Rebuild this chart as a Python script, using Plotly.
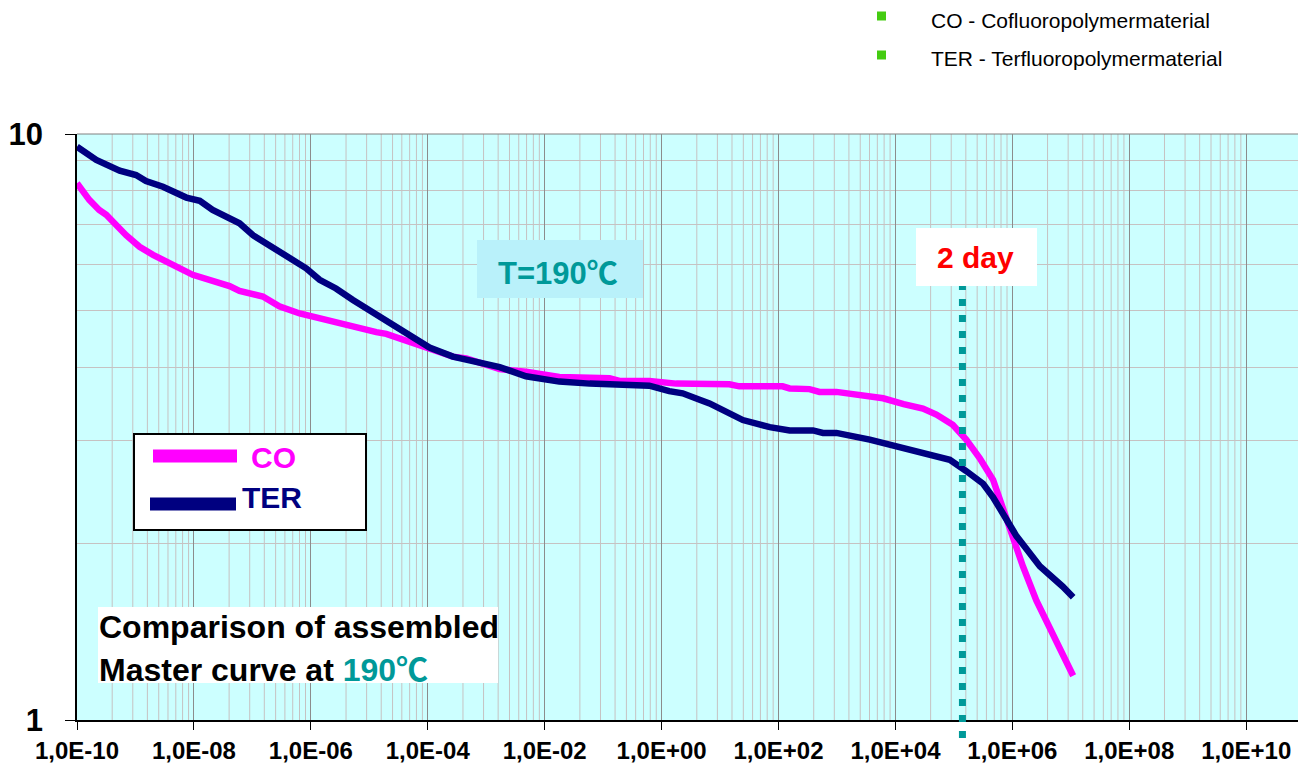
import plotly.graph_objects as go

# Master curves at 190 °C: log10(time) and modulus values
co_log_t = [-10.00, -9.79, -9.62, -9.50, -9.16, -9.05, -8.93, -8.70, -8.53, -8.25,
            -8.02, -7.39, -7.22, -6.82, -6.65, -6.54, -6.19, -5.97, -5.40, -5.17,
            -4.88, -4.71, -4.49, -3.97, -3.57, -3.34, -2.77, -2.32, -1.75, -0.89,
            -0.72, -0.21, 0.25, 1.16, 1.33, 2.07, 2.19, 2.53, 2.70, 2.99,
            3.16, 3.44, 3.79, 4.14, 4.47, 4.70, 4.98, 5.21, 5.44, 5.67,
            5.84, 6.01, 6.18, 6.41, 6.58, 6.75, 6.92, 7.04]
co_mod = [8.24, 7.72, 7.42, 7.28, 6.72, 6.59, 6.42, 6.22, 6.10, 5.90,
          5.75, 5.50, 5.40, 5.28, 5.17, 5.08, 4.94, 4.88, 4.70, 4.66,
          4.59, 4.56, 4.48, 4.31, 4.17, 4.14, 3.97, 3.93, 3.85, 3.83,
          3.79, 3.79, 3.75, 3.74, 3.71, 3.71, 3.68, 3.67, 3.63, 3.63,
          3.61, 3.60, 3.54, 3.46, 3.40, 3.32, 3.19, 3.01, 2.80, 2.57,
          2.28, 2.03, 1.83, 1.60, 1.48, 1.35, 1.25, 1.19]

ter_log_t = [-10.00, -9.67, -9.27, -8.99, -8.82, -8.53, -8.13, -7.90, -7.68, -7.22,
             -6.99, -6.76, -6.42, -6.08, -5.85, -5.57, -5.28, -4.88, -4.60, -4.43,
             -4.20, -3.97, -3.57, -3.34, -2.77, -2.32, -1.75, -1.23, -0.61, -0.21,
             0.13, 0.36, 0.65, 0.82, 1.39, 1.85, 2.19, 2.59, 2.76, 2.99,
             3.56, 3.79, 4.07, 4.47, 4.64, 4.93, 5.21, 5.50, 5.67, 5.95,
             6.07, 6.47, 6.64, 6.86, 7.04]
ter_mod = [9.51, 9.03, 8.66, 8.51, 8.31, 8.13, 7.79, 7.69, 7.42, 7.04,
           6.72, 6.51, 6.17, 5.90, 5.64, 5.45, 5.21, 4.91, 4.72, 4.60,
           4.45, 4.32, 4.17, 4.12, 4.00, 3.86, 3.78, 3.75, 3.73, 3.72,
           3.64, 3.61, 3.52, 3.47, 3.25, 3.16, 3.12, 3.12, 3.09, 3.09,
           3.01, 2.97, 2.93, 2.86, 2.84, 2.78, 2.66, 2.53, 2.40, 2.14,
           2.06, 1.83, 1.77, 1.69, 1.62]

two_day_time = 1.4e5

x_tick_vals = [1e-10, 1e-8, 1e-6, 1e-4, 1e-2, 1e0, 1e2, 1e4, 1e6, 1e8, 1e10]
x_tick_text = ["1,0E-10", "1,0E-08", "1,0E-06", "1,0E-04", "1,0E-02", "1,0E+00",
               "1,0E+02", "1,0E+04", "1,0E+06", "1,0E+08", "1,0E+10"]
y_tick_vals = [1, 10]
y_tick_text = ["1", "10"]

CO_COLOR = "#FF00FF"
TER_COLOR = "#000080"
TEAL = "#009999"
FONT = "Liberation Sans, Arial, Noto Sans CJK SC, sans-serif"
DEG_C = "<span style='font-family:Noto Sans CJK SC'>℃</span>"

# plot area in pixels
L, T, W, H = 77, 134, 1221, 586


def px(x):
    return (x - L) / W


def py(y):
    return (T + H - y) / H


fig = go.Figure()
fig.add_trace(go.Scatter(x=[10 ** v for v in co_log_t], y=co_mod, mode="lines",
                         line=dict(color=CO_COLOR, width=6.5), name="CO"))
fig.add_trace(go.Scatter(x=[10 ** v for v in ter_log_t], y=ter_mod, mode="lines",
                         line=dict(color=TER_COLOR, width=6.5), name="TER"))

shapes = []
# x minor grid: k^2 steps inside each two-decade major interval
for n in range(10):
    for k in range(2, 10):
        xv = 1e-10 * k * k * 100 ** n
        shapes.append(dict(type="line", xref="x", yref="paper", x0=xv, x1=xv, y0=0, y1=1,
                           line=dict(color="#C6C2C2", width=1), layer="below"))
# top border
shapes.append(dict(type="line", xref="paper", yref="paper", x0=0, x1=1, y0=1, y1=1,
                   line=dict(color="#808080", width=1), layer="below"))
# 2-day marker
shapes.append(dict(type="line", xref="x", yref="paper", x0=two_day_time, x1=two_day_time,
                   y0=py(738), y1=py(285), line=dict(color=TEAL, width=7, dash="7px,9px"),
                   layer="above"))
# boxes
shapes.append(dict(type="rect", xref="paper", yref="paper", x0=px(916), x1=px(1037),
                   y0=py(286), y1=py(228), fillcolor="white", line=dict(width=0)))
shapes.append(dict(type="rect", xref="paper", yref="paper", x0=px(477), x1=px(643),
                   y0=py(298), y1=py(240), fillcolor="#B9F1FA", line=dict(width=0)))
shapes.append(dict(type="rect", xref="paper", yref="paper", x0=px(98), x1=px(498),
                   y0=py(683), y1=py(607), fillcolor="white", line=dict(width=0)))
# legend box
shapes.append(dict(type="rect", xref="paper", yref="paper", x0=px(134), x1=px(366),
                   y0=py(530), y1=py(434), fillcolor="white", line=dict(color="black", width=2)))
shapes.append(dict(type="line", xref="paper", yref="paper", x0=px(153), x1=px(237),
                   y0=py(456), y1=py(456), line=dict(color=CO_COLOR, width=13)))
shapes.append(dict(type="line", xref="paper", yref="paper", x0=px(150), x1=px(236),
                   y0=py(504), y1=py(504), line=dict(color=TER_COLOR, width=13)))
# top key squares
for yc in (16, 55):
    shapes.append(dict(type="rect", xref="paper", yref="paper", x0=px(877), x1=px(886),
                       y0=py(yc + 4.5), y1=py(yc - 4.5), fillcolor="#44CC11",
                       line=dict(width=0)))

annotations = [
    dict(text="<b>CO</b>", x=px(249), y=py(457), font=dict(size=30, color=CO_COLOR)),
    dict(text="<b>TER</b>", x=px(240), y=py(497), font=dict(size=30, color=TER_COLOR)),
    dict(text="<b>T=190" + DEG_C + "</b>", x=px(496), y=py(270),
         font=dict(size=31, color=TEAL)),
    dict(text="<b>2 day</b>", x=px(935), y=py(257), font=dict(size=30, color="#FF0000")),
    dict(text="<b>Comparison of assembled</b>", x=px(97), y=py(627),
         font=dict(size=32, color="black")),
    dict(text="<b>Master curve at <span style='color:%s'>190%s</span></b>" % (TEAL, DEG_C),
         x=px(97), y=py(667), font=dict(size=32, color="black")),
    dict(text="CO - Cofluoropolymermaterial", x=px(929), y=py(20),
         font=dict(size=21, color="black")),
    dict(text="TER - Terfluoropolymermaterial", x=px(929), y=py(58),
         font=dict(size=21, color="black")),
]
for a in annotations:
    a.update(xref="paper", yref="paper", xanchor="left", yanchor="middle",
             showarrow=False)

fig.update_layout(
    width=1298, height=774,
    margin=dict(l=L, r=1298 - L - W, t=T, b=774 - T - H),
    paper_bgcolor="white", plot_bgcolor="#CCFFFF",
    showlegend=False,
    font=dict(family=FONT, color="black"),
    shapes=shapes, annotations=annotations,
)
fig.update_xaxes(
    type="log", range=[-10, -10 + W / 58.46],
    tickmode="array", tickvals=x_tick_vals, ticktext=x_tick_text,
    tickfont=dict(size=24, family=FONT, color="black", weight="bold"),
    ticks="outside", ticklen=8, tickcolor="black", tickwidth=1,
    showline=True, linecolor="black", linewidth=1.5,
    showgrid=True, gridcolor="#8C8C8C", gridwidth=1,
    zeroline=False,
)
fig.update_yaxes(
    type="log", range=[0, 1],
    tickmode="array", tickvals=y_tick_vals, ticktext=y_tick_text,
    tickfont=dict(size=31, family=FONT, color="black", weight="bold"),
    ticks="outside", ticklen=10, tickcolor="black", tickwidth=1,
    ticklabelstandoff=16,
    showline=True, linecolor="black", linewidth=1.5,
    showgrid=False,
    minor=dict(tickmode="array", tickvals=[2, 3, 4, 5, 6, 7, 8, 9], showgrid=True,
               gridcolor="#C6C2C2", gridwidth=1, ticks=""),
    zeroline=False,
)

fig.write_html("out.html")
